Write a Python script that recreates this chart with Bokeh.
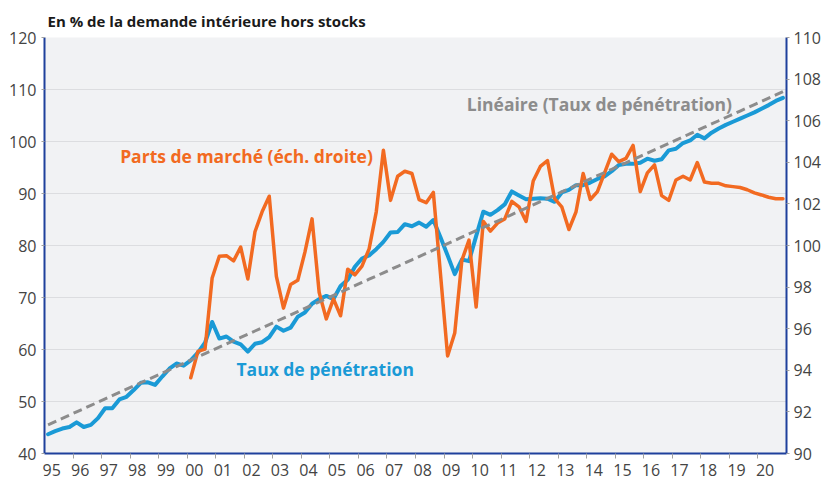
import numpy as np
from bokeh.plotting import figure
from bokeh.models import Range1d, LinearAxis, FixedTicker, Label
from bokeh.embed import file_html
from bokeh.resources import INLINE

# ---------------- data ----------------
title_text = "En % de la demande intérieure hors stocks"
years = list(range(1995, 2021))
year_labels = ["95", "96", "97", "98", "99", "00", "01", "02", "03", "04", "05", "06", "07",
               "08", "09", "10", "11", "12", "13", "14", "15", "16", "17", "18", "19", "20"]

# Taux de pénétration (quarterly, 1995T1 - 2020T4), left axis
taux = [43.7, 44.3, 44.8, 45.1, 46.0, 45.1, 45.5, 46.8, 48.7, 48.7,
        50.4, 50.9, 52.2, 53.6, 53.7, 53.2, 54.8, 56.3, 57.3, 56.9,
        57.9, 59.4, 61.3, 65.3, 62.1, 62.5, 61.5, 61.0, 59.6, 61.1,
        61.4, 62.4, 64.4, 63.6, 64.2, 66.3, 67.1, 68.8, 69.7, 70.3,
        69.7, 72.2, 73.4, 75.9, 77.5, 78.1, 79.3, 80.7, 82.5, 82.6,
        84.1, 83.7, 84.4, 83.6, 84.9, 81.6, 78.1, 74.5, 77.3, 77.0,
        81.8, 86.5, 85.9, 86.8, 87.9, 90.4, 89.6, 88.9, 89.0, 89.1,
        89.0, 88.4, 90.2, 90.7, 91.6, 91.6, 92.1, 92.8, 93.3, 94.3,
        95.5, 95.7, 95.7, 95.9, 96.7, 96.3, 96.6, 98.3, 98.6, 99.7,
        100.2, 101.3, 100.6, 101.7, 102.5, 103.2, 103.8, 104.4, 105.0, 105.6,
        106.3, 107.0, 107.8, 108.4]

# Parts de marché (quarterly, 2000T1 - 2020T4), right axis
parts_start_quarter = 20
parts = [93.64, 94.91, 95.02, 98.44, 99.48, 99.51, 99.26, 99.92, 98.39, 100.66,
         101.62, 102.37, 98.52, 96.99, 98.13, 98.33, 99.68, 101.28, 97.74, 96.47,
         97.43, 96.62, 98.86, 98.59, 99.01, 99.84, 101.62, 104.58, 102.17, 103.33,
         103.57, 103.46, 102.21, 102.06, 102.55, 98.64, 94.69, 95.79, 99.29, 100.26,
         97.04, 101.16, 100.69, 101.08, 101.27, 102.12, 101.86, 101.16, 103.10, 103.80,
         104.08, 102.25, 101.86, 100.77, 101.62, 103.46, 102.21, 102.59, 103.49, 104.39,
         104.03, 104.19, 104.81, 102.59, 103.49, 103.88, 102.40, 102.17, 103.15, 103.33,
         103.15, 103.99, 103.05, 102.99, 102.99, 102.87, 102.83, 102.79, 102.68, 102.53,
         102.43, 102.32, 102.25, 102.25]

left_ticks = [40, 50, 60, 70, 80, 90, 100, 110, 120]
right_ticks = [90, 92, 94, 96, 98, 100, 102, 104, 106, 108, 110]

# ---------------- styles ----------------
BLUE = "#1a9ad6"
ORANGE = "#f26a21"
GREY = "#8c8c8c"
AXIS_BLUE = "#1f409c"
FONT = "Open Sans"

n_q = len(taux)
qx = np.arange(n_q)
px = qx[parts_start_quarter:parts_start_quarter + len(parts)]

# linear trend of the penetration rate (as in the source chart)
coef = np.polyfit(qx, np.array(taux), 1)
trend = np.polyval(coef, qx)

p = figure(width=823, height=480,
           x_range=Range1d(-0.5, n_q - 0.5), y_range=Range1d(40, 120),
           output_backend="svg", toolbar_location=None,
           min_border_left=44, min_border_right=34, min_border_top=37, min_border_bottom=27,
           background_fill_color="#f1f2f4", border_fill_color="white",
           outline_line_color=None)
p.extra_y_ranges = {"right": Range1d(90, 110)}

# title
p.title.text = title_text
p.title.text_font = FONT
p.title.text_font_size = "15px"
p.title.text_font_style = "bold"
p.title.text_color = "#1a1a1a"
p.title.align = "left"
p.title.offset = 3
p.title.standoff = 14

# grid
p.xgrid.grid_line_color = None
p.ygrid.grid_line_color = "#dcdde0"
p.ygrid.grid_line_width = 1
p.ygrid.ticker = FixedTicker(ticks=left_ticks)

def style_axis(ax):
    ax.axis_line_color = AXIS_BLUE
    ax.axis_line_width = 2
    ax.major_label_text_font = FONT
    ax.major_label_text_font_size = "16px"
    ax.major_label_text_color = "#444444"
    ax.major_tick_line_color = "#a0a0a0"
    ax.major_tick_in = 0
    ax.major_tick_out = 3
    ax.minor_tick_line_color = None

# left axis
ly = p.yaxis[0]
ly.ticker = FixedTicker(ticks=left_ticks)
style_axis(ly)
ly.major_label_standoff = 5

# right axis
ry = LinearAxis(y_range_name="right", ticker=FixedTicker(ticks=right_ticks))
style_axis(ry)
ry.major_label_standoff = 4
p.add_layout(ry, "right")

# bottom axis: labels at each year's first quarter, tick marks between years
bx = p.xaxis[0]
label_pos = [4 * k + 0.5 for k in range(len(years))]
bx.ticker = FixedTicker(ticks=label_pos, minor_ticks=[4 * k - 0.5 for k in range(1, len(years))])
bx.major_label_overrides = {pos: lab for pos, lab in zip(label_pos, year_labels)}
style_axis(bx)
bx.major_tick_line_color = None
bx.major_tick_out = 0
bx.minor_tick_line_color = "#a0a0a0"
bx.minor_tick_in = 0
bx.minor_tick_out = 5
bx.major_label_standoff = 5

# series
p.line(qx, taux, line_color=BLUE, line_width=4, line_join="round", line_cap="round")
p.line(px, parts, y_range_name="right", line_color=ORANGE, line_width=3.5,
       line_join="round", line_cap="round")
p.line(qx, trend, line_color=GREY, line_width=3, line_dash="9 5")

# annotations
def add_label(x, y, text, color):
    p.add_layout(Label(x=x, y=y, text=text, text_color=color, text_font=FONT,
                       text_font_size="17.5px", text_font_style="bold",
                       text_align="left", text_baseline="middle"))

add_label(58.7, 107.3, "Linéaire (Taux de pénétration)", GREY)
add_label(10.1, 97.2, "Parts de marché (éch. droite)", ORANGE)
add_label(26.4, 56.2, "Taux de pénétration", BLUE)

open("out.html", "w").write(file_html(p, INLINE))
